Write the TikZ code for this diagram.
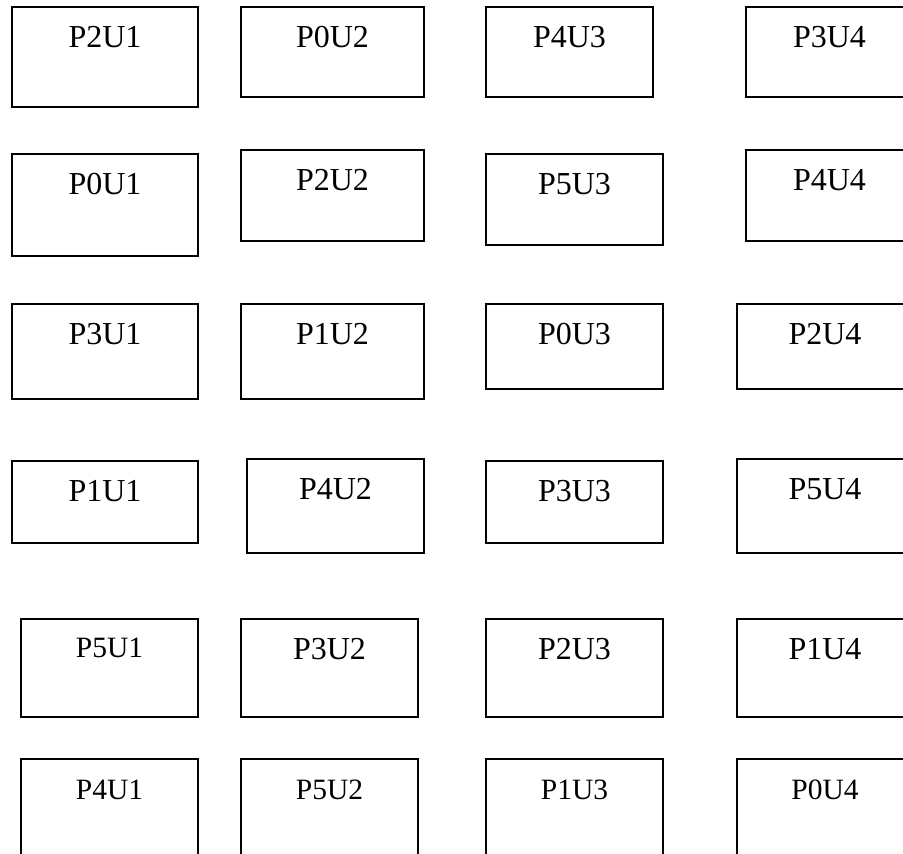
\documentclass[tikz,border=0pt]{standalone}
\usepackage{fontspec}
\setmainfont{Liberation Serif}
\tikzset{
  cell/.style={draw=black, line width=1.2pt, inner sep=0pt, outer sep=0pt},
  lbl/.style={inner sep=0pt, outer sep=0pt, font=\fontsize{32}{32}\selectfont},
  lblsmall/.style={inner sep=0pt, outer sep=0pt, font=\fontsize{29.5}{29.5}\selectfont},
}
% name, x1, y1, x2, y2, text, label style, baseline offset
\newcommand\mkbox[8]{%
  \node[cell, minimum width={#4-#2}, minimum height={#5-#3}] (#1) at ({(#2+#4)/2},{(#3+#5)/2}) {};
  \node[#7, anchor=base] (#1t) at ([yshift=-#8pt]#1.north) {#6};
}
\begin{document}
\begin{tikzpicture}[x=1pt, y=-1pt]
\useasboundingbox (0,0) rectangle (903,854);
\fill[white] (0,0) rectangle (903,854);
\clip (0,0) rectangle (903,854);
% row 1
\mkbox{p2u1}{12}{7}{198}{107}{P2U1}{lbl}{40.5}
\mkbox{p0u2}{241}{7}{424}{97}{P0U2}{lbl}{40.5}
\mkbox{p4u3}{486}{7}{653}{97}{P4U3}{lbl}{40.5}
\mkbox{p3u4}{746}{7}{913}{97}{P3U4}{lbl}{40.5}
% row 2
\mkbox{p0u1}{12}{154}{198}{256}{P0U1}{lbl}{40.5}
\mkbox{p2u2}{241}{150}{424}{241}{P2U2}{lbl}{40.5}
\mkbox{p5u3}{486}{154}{663}{245}{P5U3}{lbl}{40.5}
\mkbox{p4u4}{746}{150}{913}{241}{P4U4}{lbl}{40.5}
% row 3
\mkbox{p3u1}{12}{304}{198}{399}{P3U1}{lbl}{40.5}
\mkbox{p1u2}{241}{304}{424}{399}{P1U2}{lbl}{40.5}
\mkbox{p0u3}{486}{304}{663}{389}{P0U3}{lbl}{40.5}
\mkbox{p2u4}{737}{304}{913}{389}{P2U4}{lbl}{40.5}
% row 4
\mkbox{p1u1}{12}{461}{198}{543}{P1U1}{lbl}{40.5}
\mkbox{p4u2}{247}{459}{424}{553}{P4U2}{lbl}{40.5}
\mkbox{p3u3}{486}{461}{663}{543}{P3U3}{lbl}{40.5}
\mkbox{p5u4}{737}{459}{913}{553}{P5U4}{lbl}{40.5}
% row 5
\mkbox{p5u1}{21}{619}{198}{717}{P5U1}{lblsmall}{38}
\mkbox{p3u2}{241}{619}{418}{717}{P3U2}{lbl}{40.5}
\mkbox{p2u3}{486}{619}{663}{717}{P2U3}{lbl}{40.5}
\mkbox{p1u4}{737}{619}{913}{717}{P1U4}{lbl}{40.5}
% row 6
\mkbox{p4u1}{21}{759}{198}{870}{P4U1}{lblsmall}{40}
\mkbox{p5u2}{241}{759}{418}{870}{P5U2}{lblsmall}{40}
\mkbox{p1u3}{486}{759}{663}{870}{P1U3}{lblsmall}{40}
\mkbox{p0u4}{737}{759}{913}{870}{P0U4}{lblsmall}{40}
\end{tikzpicture}
\end{document}
